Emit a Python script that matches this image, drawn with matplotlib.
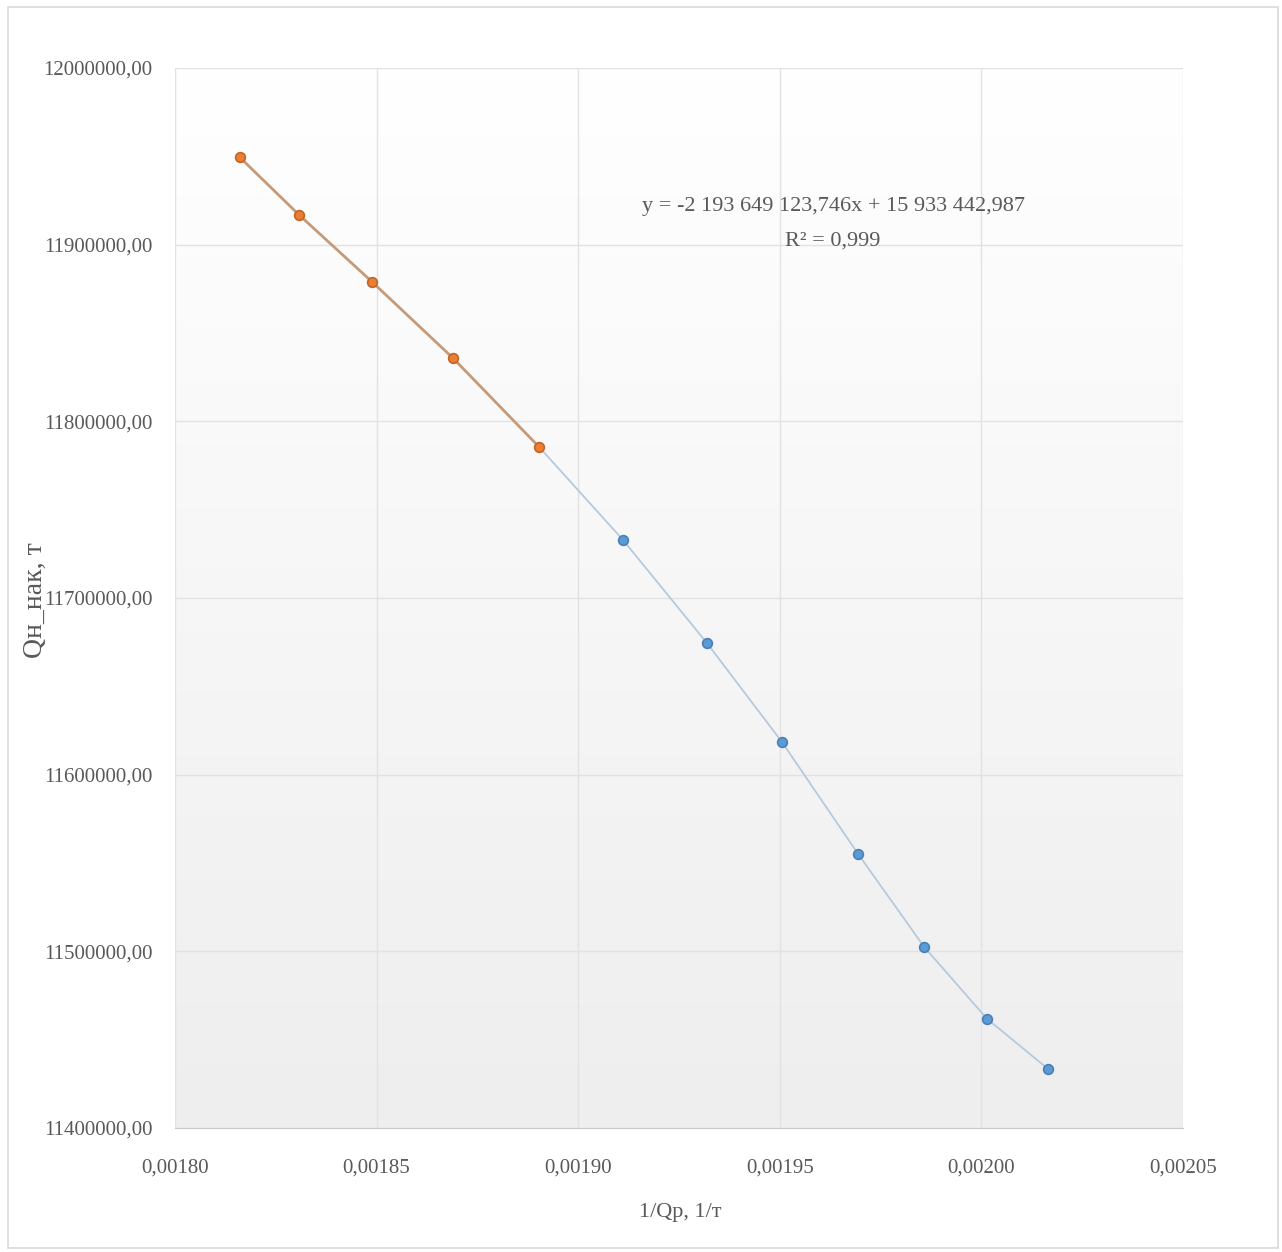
import numpy as np
import matplotlib
matplotlib.use("Agg")
import matplotlib.pyplot as plt
from matplotlib.ticker import FuncFormatter, MultipleLocator
from matplotlib.patches import Rectangle

plt.rcParams['font.family'] = ['Liberation Serif', 'DejaVu Serif']

# --- data: 1/Qp vs accumulated production ---
x_fit = [0.001816, 0.0018308, 0.0018489, 0.0018689, 0.0018903]
y_fit = [11949600, 11916800, 11878900, 11835900, 11785500]

x_rest = [0.0018903, 0.0019111, 0.0019319, 0.0019505, 0.0019694, 0.0019858, 0.0020014, 0.0020165]
y_rest = [11785500, 11732900, 11674600, 11618600, 11555200, 11502500, 11461800, 11433500]

eq_text = "y = -2 193 649 123,746x + 15 933 442,987"
r2_text = "R² = 0,999"

fig = plt.figure(figsize=(12.82, 12.52), dpi=100)
fig.patch.set_facecolor('white')
fig.patches.append(Rectangle((8/1282, 4/1252), 1270/1282, 1241/1252, transform=fig.transFigure,
                             fill=False, edgecolor='#d9d9d9', lw=1.2))

ax = fig.add_axes([175/1282, 1 - 1128/1252, 1008/1282, 1060/1252])

# plot area fill: white at top fading to light grey
grad = np.linspace(1.0, 0.0, 256).reshape(-1, 1)
ax.imshow(grad, cmap=matplotlib.colors.LinearSegmentedColormap.from_list('g', ['#eeeeee', '#ffffff']),
          extent=[0, 1, 0, 1], transform=ax.transAxes, aspect='auto', zorder=0, vmin=0, vmax=1)

ax.set_xlim(0.00180, 0.00205)
ax.set_ylim(11400000, 12000000)
ax.xaxis.set_major_locator(MultipleLocator(0.00005))
ax.yaxis.set_major_locator(MultipleLocator(100000))
ax.xaxis.set_major_formatter(FuncFormatter(lambda v, p: f"{v:.5f}".replace('.', ',')))
ax.yaxis.set_major_formatter(FuncFormatter(lambda v, p: f"{v:.2f}".replace('.', ',')))
ax.grid(True, color='#e2e2e2', lw=1.0, zorder=1)
ax.set_axisbelow(True)
for side in ['top', 'right', 'left']:
    ax.spines[side].set_visible(False)
ax.spines['bottom'].set_color('#c8c8c8')
ax.tick_params(length=0, labelsize=15, labelcolor='#595959')
ax.tick_params(axis='x', pad=22)
ax.tick_params(axis='y', pad=16)

ax.plot(x_rest, y_rest, '-', color='#b7c9dc', lw=1.3, zorder=3)
ax.plot(x_rest[1:], y_rest[1:], 'o', ms=7, mfc='#5b9bd5', mec='#4a7fb5', mew=1.2, zorder=4)
ax.plot(x_fit, y_fit, '-', color='#c49a78', lw=2.0, zorder=5)
ax.plot(x_fit, y_fit, 'o', ms=7, mfc='#ed7d31', mec='#c0652a', mew=1.2, zorder=6)

fig.text(833/1282, 1 - 207/1252, eq_text, ha='center', va='center', fontsize=16, color='#595959')
fig.text(833/1282, 1 - 241/1252, r2_text, ha='center', va='center', fontsize=16, color='#595959')

fig.text(680/1282, 1 - 1212/1252, "1/Qp, 1/т", ha='center', va='center', fontsize=16, color='#595959')
fig.text(35/1282, 1 - 600/1252, "Qн_нак, т", ha='center', va='center', rotation=90,
         fontsize=20, color='#595959')

fig.savefig("out.png", dpi=100)
